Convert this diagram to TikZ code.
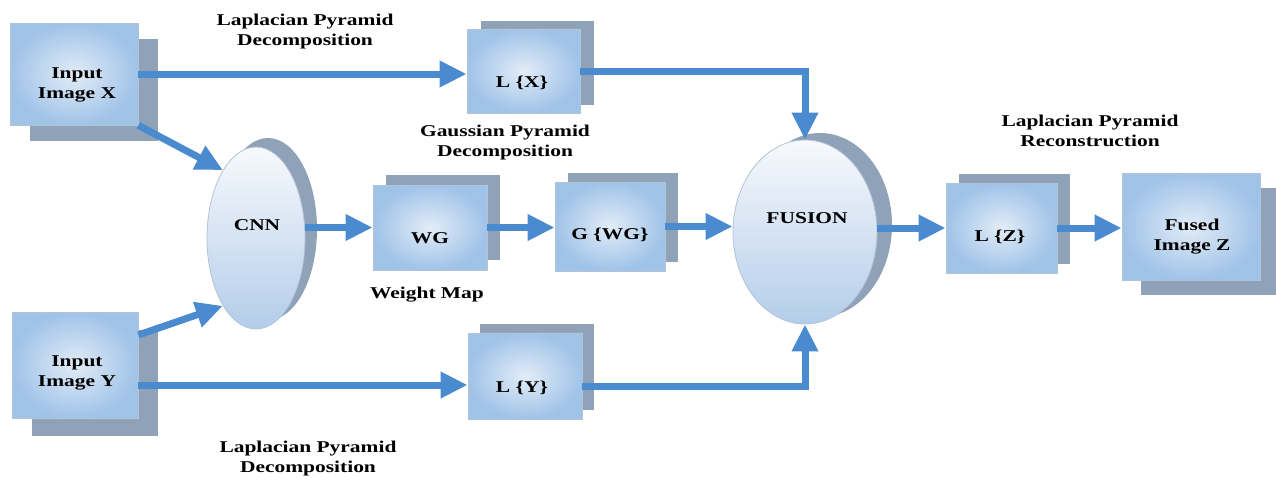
\documentclass[tikz,border=0pt]{standalone}
\usepackage{fontspec}
\setmainfont{Liberation Serif}[FakeStretch=1.3]
\usetikzlibrary{arrows.meta,shapes.geometric,shadows}
\definecolor{arrowc}{RGB}{74,139,208}
\definecolor{shadowc}{RGB}{143,162,183}
\definecolor{boxline}{RGB}{178,196,215}
\definecolor{boxdark}{RGB}{160,195,232}
\definecolor{boxlight}{RGB}{226,236,247}
\definecolor{elltop}{RGB}{247,249,252}
\definecolor{ellbot}{RGB}{180,205,234}
\tikzset{
  txt/.style={font=\fontsize{16.5}{20}\selectfont\bfseries, align=center, inner sep=0pt},
  imgbox/.style={rectangle, draw=boxline, line width=0.8pt, inner color=boxlight, outer color=boxdark},
  ellnode/.style={ellipse, draw=boxline, line width=0.8pt, top color=elltop, bottom color=ellbot},
  arr/.style={draw=arrowc, line width=7pt, -{Triangle[length=27pt,width=25pt]}, arrowc},
}
\begin{document}
\begin{tikzpicture}[x=1pt,y=-1pt]
\useasboundingbox (0,0) rectangle (1276,480);
% boxes
\node[imgbox, minimum width=128pt, minimum height=102pt,
  drop shadow={shadow xshift=20pt, shadow yshift=-16pt, opacity=1, fill=shadowc}] (inX) at (74,74) {};
\node[imgbox, minimum width=126pt, minimum height=106pt,
  drop shadow={shadow xshift=20pt, shadow yshift=-18pt, opacity=1, fill=shadowc}] (inY) at (75,365) {};
\node[imgbox, minimum width=113pt, minimum height=84pt,
  drop shadow={shadow xshift=14pt, shadow yshift=8pt, opacity=1, fill=shadowc}] (LX) at (523.5,71) {};
\node[imgbox, minimum width=114pt, minimum height=86pt,
  drop shadow={shadow xshift=12pt, shadow yshift=9pt, opacity=1, fill=shadowc}] (LY) at (525,376) {};
\node[imgbox, minimum width=114pt, minimum height=85pt,
  drop shadow={shadow xshift=13pt, shadow yshift=10pt, opacity=1, fill=shadowc}] (WG) at (430,227.5) {};
\node[imgbox, minimum width=110pt, minimum height=89pt,
  drop shadow={shadow xshift=13pt, shadow yshift=9pt, opacity=1, fill=shadowc}] (GWG) at (610,226.5) {};
\node[imgbox, minimum width=111pt, minimum height=90pt,
  drop shadow={shadow xshift=13pt, shadow yshift=9pt, opacity=1, fill=shadowc}] (LZ) at (1001.5,228) {};
\node[imgbox, minimum width=138pt, minimum height=107pt,
  drop shadow={shadow xshift=19pt, shadow yshift=-15pt, opacity=1, fill=shadowc}] (FZ) at (1191,226.5) {};
% ellipses
\node[ellnode, minimum width=98pt, minimum height=182pt,
  drop shadow={shadow xshift=12pt, shadow yshift=9pt, opacity=1, fill=shadowc}] (CNN) at (256,238) {};
\node[ellnode, minimum width=144pt, minimum height=184pt,
  drop shadow={shadow xshift=15pt, shadow yshift=7pt, opacity=1, fill=shadowc}] (FUS) at (805,232) {};
% texts in shapes
\node[txt] (inXt) at (77,85) {Input\\Image X};
\node[txt] (inYt) at (77,373) {Input\\Image Y};
\node[txt] (LXt) at (522,83) {L \{X\}};
\node[txt] (LYt) at (522,388) {L \{Y\}};
\node[txt] (WGt) at (430,238) {WG};
\node[txt] (GWGt) at (610,235) {G \{WG\}};
\node[txt] (LZt) at (1000,237) {L \{Z\}};
\node[txt] (FZt) at (1192,237) {Fused\\Image Z};
\node[txt] (CNNt) at (257,225) {CNN};
\node[txt] (FUSt) at (807,218) {FUSION};
% free labels
\node[txt] (lab1) at (305,32) {Laplacian Pyramid\\Decomposition};
\node[txt] (lab2) at (505,143) {Gaussian Pyramid\\Decomposition};
\node[txt] (lab3) at (427,295) {Weight Map};
\node[txt] (lab4) at (1090,131) {Laplacian Pyramid\\Reconstruction};
\node[txt] (lab5) at (308,459) {Laplacian Pyramid\\Decomposition};
% arrows
\draw[arr] (inX.east) -- (inX.east -| LX.west);
\draw[arr] ([yshift=-20pt]inY.east) -- ([yshift=-20pt]inY.east -| LY.west);
\draw[arr] (inX.south east) -- (CNN.116);
\draw[arr] ([yshift=30pt]inY.east) -- (CNN.244);
\draw[arr] (CNN.east |- WG.west) -- (WG.west);
\draw[arr] (WG.east) -- (WG.east -| GWG.west);
\draw[arr] (GWG.east) -- (GWG.east -| FUS.west);
\draw[arr] (FUS.east |- LZ.west) -- (LZ.west);
\draw[arr] (LZ.east) -- (LZ.east -| FZ.west);
\draw[arr] (LX.east) -| (FUS.north);
\draw[arr] ([yshift=-10pt]LY.east) -| (FUS.south);
\end{tikzpicture}
\end{document}
